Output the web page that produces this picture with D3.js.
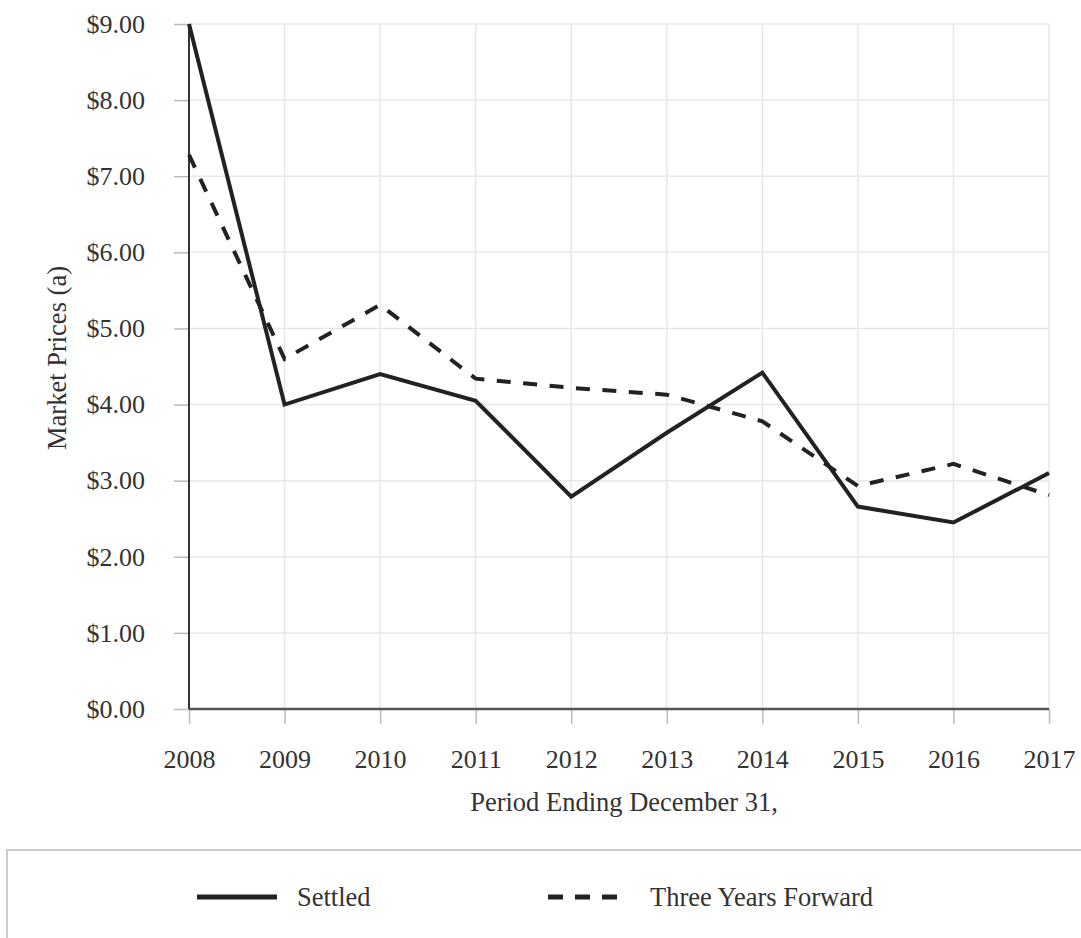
<!DOCTYPE html>
<html lang="en">
<head>
<meta charset="utf-8">
<title>Market Prices</title>
<script src="https://d3js.org/d3.v7.min.js"></script>
<style>
  body { margin: 0; background: #fff; }
  svg { display: block; font-family: "Liberation Serif", "DejaVu Serif", serif; }
</style>
</head>
<body>
<script>
// data
const years = [2008, 2009, 2010, 2011, 2012, 2013, 2014, 2015, 2016, 2017];
const settled = [9.00, 4.00, 4.40, 4.05, 2.79, 3.63, 4.42, 2.66, 2.45, 3.10];
const threeYearsForward = [7.28, 4.60, 5.31, 4.34, 4.22, 4.13, 3.78, 2.93, 3.22, 2.81];
const yTicks = [0, 1, 2, 3, 4, 5, 6, 7, 8, 9];

const w = 1081, h = 938;
const padL = 189, padR = 1049, padT = 24, padB = 709;
const ink = "#222", textCol = "#333";

const svg = d3.select("body").append("svg")
  .attr("width", w).attr("height", h);

const x = d3.scalePoint().domain(years).range([padL, padR]);
const y = d3.scaleLinear().domain([0, 9]).range([padB, padT]);

// grid
svg.append("g").selectAll("line").data(yTicks.slice(1)).enter().append("line")
  .attr("x1", padL).attr("x2", padR)
  .attr("y1", d => y(d)).attr("y2", d => y(d))
  .attr("stroke", "#e8e8e8").attr("stroke-width", 1.5);
svg.append("g").selectAll("line").data(years.slice(1)).enter().append("line")
  .attr("x1", d => x(d)).attr("x2", d => x(d))
  .attr("y1", padT).attr("y2", padB)
  .attr("stroke", "#e8e8e8").attr("stroke-width", 1.5);

// axes
const yAxis = d3.axisLeft(y).tickValues(yTicks).tickSize(15).tickPadding(29)
  .tickFormat(d => "$" + d3.format(".2f")(d));
const gy = svg.append("g").attr("transform", `translate(${padL},0)`).call(yAxis)
  .attr("font-family", null).attr("font-size", 26);
gy.select(".domain").remove();
gy.selectAll(".tick line").attr("stroke", "#bbb").attr("stroke-width", 1.5);
gy.selectAll(".tick text").attr("fill", textCol);

const xAxis = d3.axisBottom(x).tickSize(15).tickPadding(25.5).tickFormat(d3.format("d"));
const gx = svg.append("g").attr("transform", `translate(0,${padB})`).call(xAxis)
  .attr("font-family", null).attr("font-size", 26);
gx.select(".domain").remove();
gx.selectAll(".tick line").attr("stroke", "#bbb").attr("stroke-width", 1.5);
gx.selectAll(".tick text").attr("fill", textCol);

svg.append("line").attr("x1", padL).attr("x2", padR).attr("y1", padB).attr("y2", padB)
  .attr("stroke", "#555").attr("stroke-width", 2.5);
svg.append("line").attr("x1", padL).attr("x2", padL).attr("y1", padT).attr("y2", padB)
  .attr("stroke", "#333").attr("stroke-width", 2);

// axis titles
svg.append("text")
  .attr("transform", `translate(66,358) rotate(-90)`)
  .attr("text-anchor", "middle").attr("font-size", 26.5).attr("fill", textCol)
  .text("Market Prices (a)");
svg.append("text")
  .attr("x", 624).attr("y", 811)
  .attr("text-anchor", "middle").attr("font-size", 26.5).attr("fill", textCol)
  .text("Period Ending December 31,");

// lines
const line = d3.line().x((d, i) => x(years[i])).y(d => y(d));
svg.append("path").datum(threeYearsForward).attr("d", line)
  .attr("fill", "none").attr("stroke", ink).attr("stroke-width", 4)
  .attr("stroke-dasharray", "14,12.5");
svg.append("path").datum(settled).attr("d", line)
  .attr("fill", "none").attr("stroke", ink).attr("stroke-width", 4)
  .attr("stroke-linejoin", "miter");

// legend
svg.append("rect").attr("x", 7).attr("y", 850).attr("width", 1090).attr("height", 120)
  .attr("fill", "none").attr("stroke", "#ccc").attr("stroke-width", 2);
const legend = [
  { name: "Settled", dash: null, x1: 197, x2: 277, tx: 297 },
  { name: "Three Years Forward", dash: "15,12", x1: 548, x2: 617, tx: 650 }
];
const lg = svg.append("g").selectAll("g").data(legend).enter().append("g");
lg.append("line").attr("x1", d => d.x1).attr("x2", d => d.x2)
  .attr("y1", 897).attr("y2", 897)
  .attr("stroke", ink).attr("stroke-width", 5)
  .attr("stroke-dasharray", d => d.dash);
lg.append("text").attr("x", d => d.tx).attr("y", 906)
  .attr("font-size", 26.5).attr("fill", textCol)
  .text(d => d.name);
</script>
</body>
</html>
